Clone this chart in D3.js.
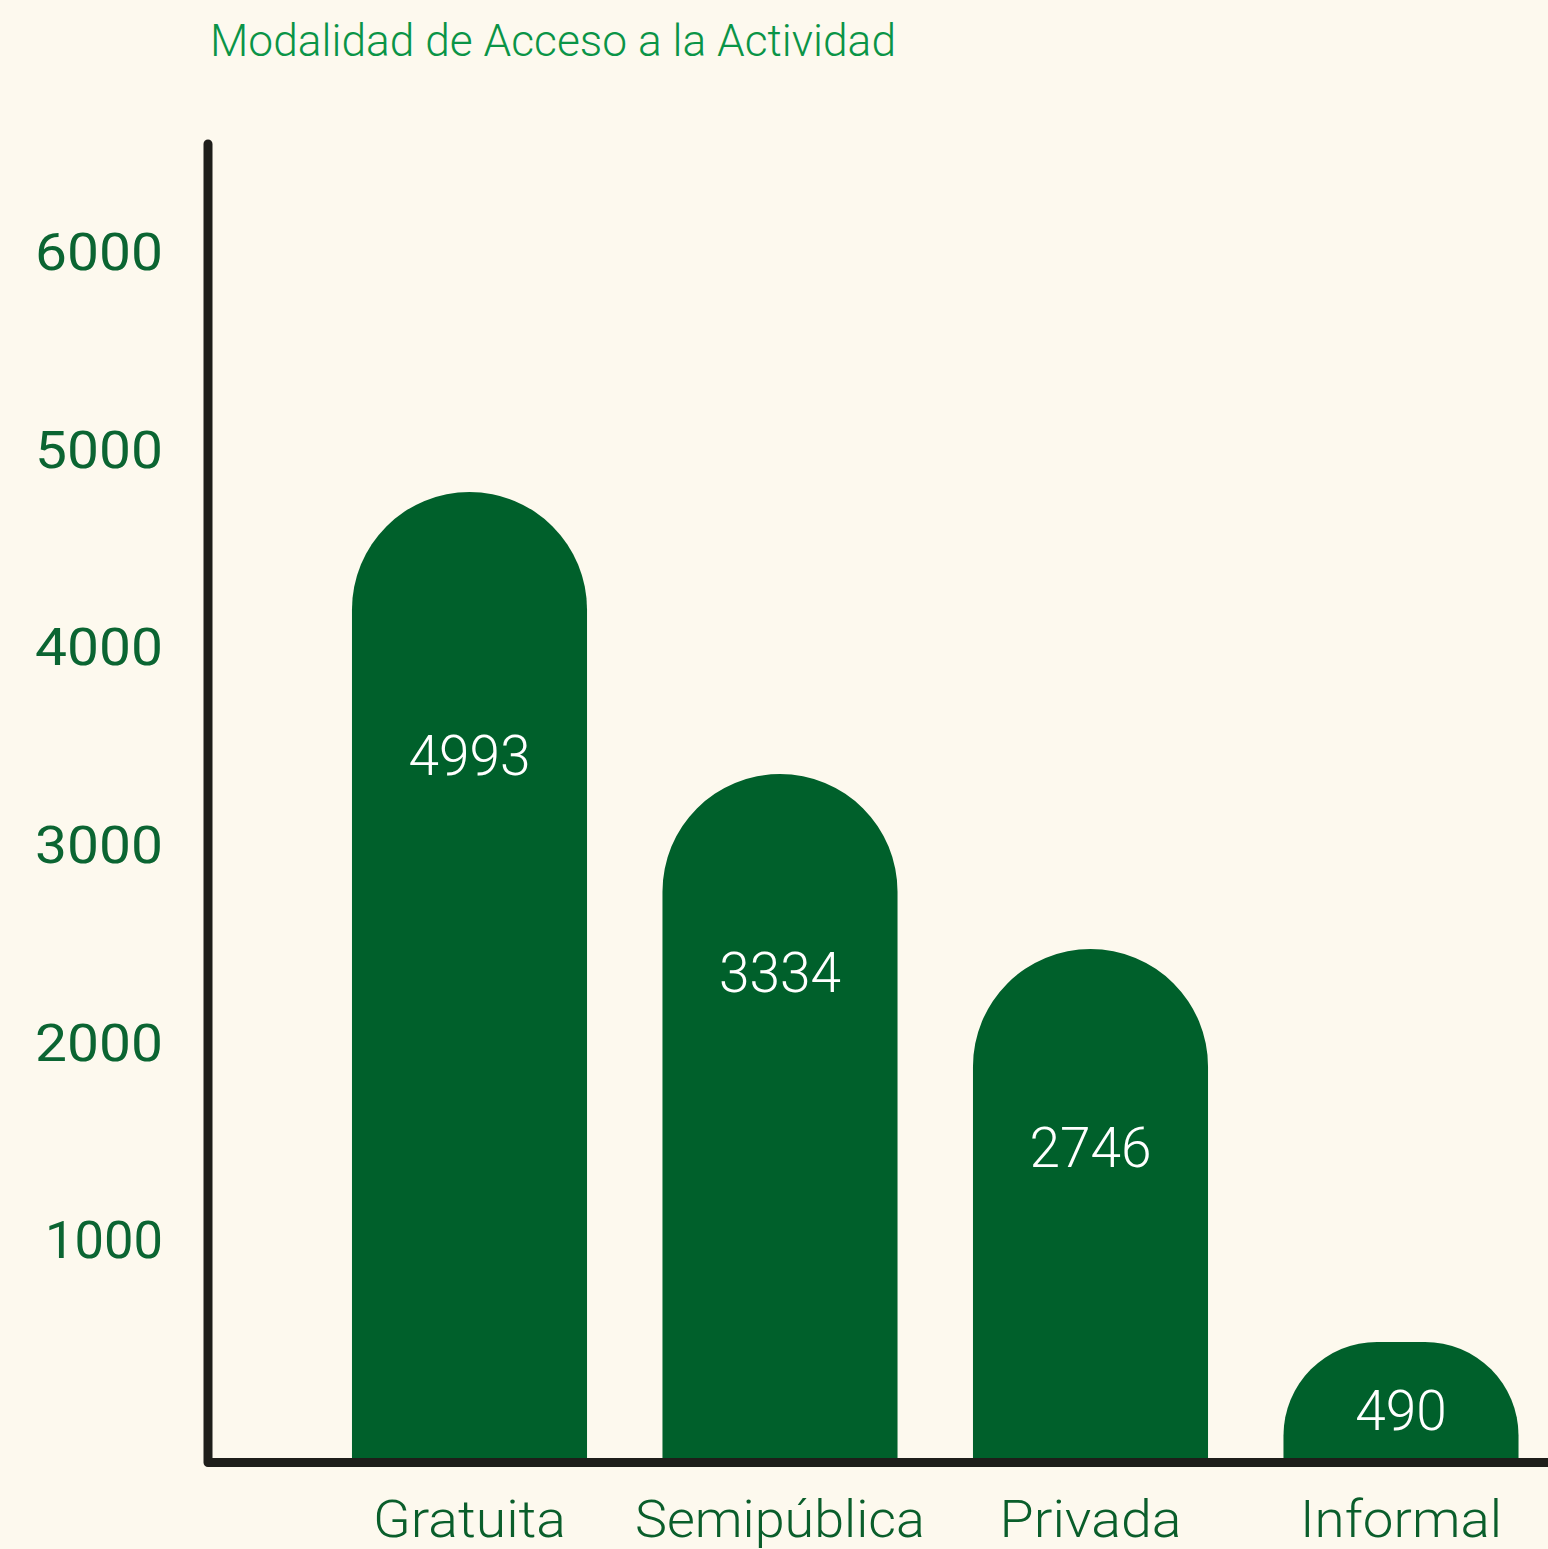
<!DOCTYPE html>
<html>
<head>
<meta charset="utf-8">
<script src="https://cdn.jsdelivr.net/npm/d3@7"></script>
<style>
  html, body { margin: 0; padding: 0; background: #fdf9ee; }
  svg { display: block; }
</style>
</head>
<body>
<svg id="chart" width="1548" height="1549"></svg>
<script>
// ---- data ----
const title = "Modalidad de Acceso a la Actividad";
const categories = ["Gratuita", "Semipública", "Privada", "Informal"];
const labelValues = [4993, 3334, 2746, 490];        // printed labels
const barHeights = [4872, 3445, 2560, 572];         // bar heights as drawn in the picture
const yTicks = [1000, 2000, 3000, 4000, 5000, 6000];

// ---- layout ----
const W = 1548, H = 1549;
const svg = d3.select("#chart");
svg.append("rect").attr("width", W).attr("height", H).attr("fill", "#fdf9ee");

const font = "Roboto, 'Noto Sans', sans-serif";
const y = d3.scaleLinear().domain([0, 6000]).range([1455, 269]);
const x = d3.scaleBand().domain(categories).range([314.25, 1556.25])
  .paddingInner(0.243).paddingOuter(0.1215);

// gridlines
const yAxis = d3.axisLeft(y).tickValues(yTicks).tickSize(-(W - 203)).tickFormat("");
const gAx = svg.append("g").attr("transform", "translate(203,0)").call(yAxis);
gAx.select(".domain").remove();
gAx.selectAll(".tick line").attr("stroke", "#a3a29c").attr("stroke-width", 1.5)
  .attr("transform", `translate(${W - 203},0)`);

// tick labels
svg.append("g").selectAll("text").data(yTicks).join("text")
  .attr("x", 163).attr("y", d => y(d) + 1)
  .attr("text-anchor", "end")
  .attr("font-family", font).attr("font-size", 52).attr("font-weight", 400)
  .attr("fill", "#0b6532")
  .attr("textLength", d => d === 1000 ? 118 : 128)
  .attr("lengthAdjust", "spacingAndGlyphs")
  .text(d => d);

// bars
const bw = x.bandwidth();
function barPath(cx, top, bottom) {
  const h = bottom - top;
  const r = Math.min(bw / 2, h * 0.8);
  const l = cx - bw / 2, rr = cx + bw / 2;
  return `M${l},${bottom} V${top + r} A${r},${r} 0 0 1 ${l + r},${top} H${rr - r} A${r},${r} 0 0 1 ${rr},${top + r} V${bottom} Z`;
}
const bars = svg.append("g");
categories.forEach((c, i) => {
  const cx = x(c) + bw / 2;
  const top = y(barHeights[i]);
  bars.append("path").attr("d", barPath(cx, top, y(0) + 4)).attr("fill", "#00602b");
  const h = y(0) - top;
  const off = Math.max(Math.min(0.6 * h, 198), 0.273 * h);
  bars.append("text")
    .attr("x", cx).attr("y", top + off + 20)
    .attr("text-anchor", "middle")
    .attr("font-family", font).attr("font-size", 55).attr("font-weight", 300)
    .attr("fill", "#ffffff")
    .text(labelValues[i]);
});

// axes lines
svg.append("path")
  .attr("d", `M208,144 V1462.5 H${W + 10}`)
  .attr("fill", "none").attr("stroke", "#1e1e1a").attr("stroke-width", 9)
  .attr("stroke-linecap", "round").attr("stroke-linejoin", "round");

// x labels
const xLabelWidths = { "Gratuita": 193, "Semipública": 290, "Privada": 182, "Informal": 202 };
svg.append("g").selectAll("text").data(categories).join("text")
  .attr("x", d => x(d) + bw / 2).attr("y", 1537)
  .attr("text-anchor", "middle")
  .attr("font-family", font).attr("font-size", 52).attr("font-weight", 300)
  .attr("fill", "#0a5e2b")
  .attr("textLength", d => xLabelWidths[d]).attr("lengthAdjust", "spacingAndGlyphs")
  .text(d => d);

// title
svg.append("text")
  .attr("x", 210).attr("y", 56)
  .attr("font-family", font).attr("font-size", 45).attr("font-weight", 300)
  .attr("fill", "#0a9447")
  .attr("textLength", 686).attr("lengthAdjust", "spacingAndGlyphs")
  .text(title);
</script>
</body>
</html>
